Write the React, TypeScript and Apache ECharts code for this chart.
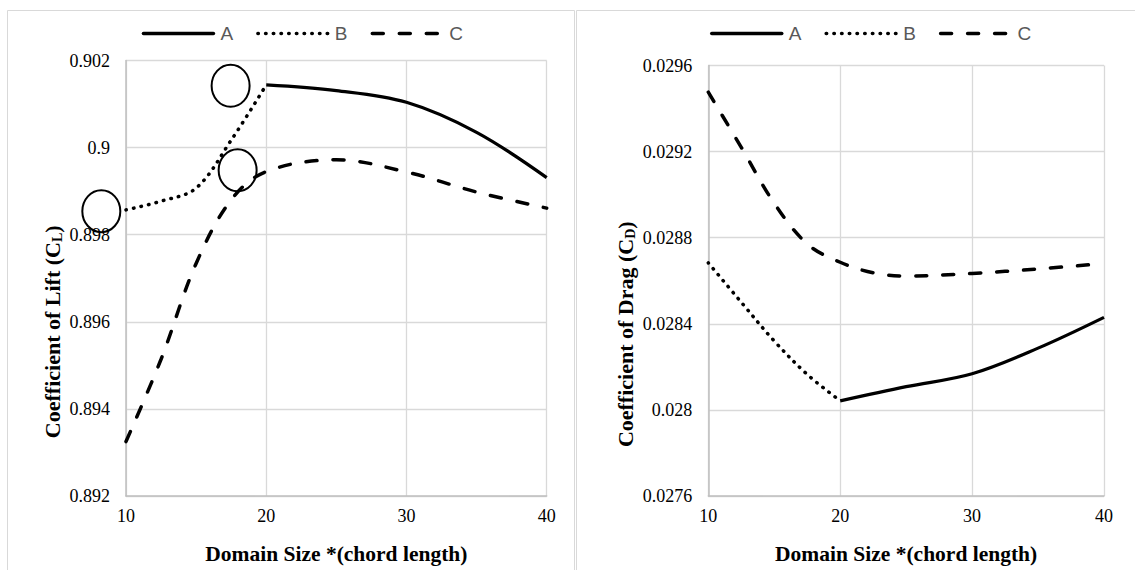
import React, { useEffect, useRef } from 'react';
import * as echarts from 'echarts';

// ---- Data ----
const xTicks = [10, 20, 30, 40];

const liftAX = [20, 25, 30, 35, 40];
const liftA = [0.90144, 0.90131, 0.90104, 0.90035, 0.89931];
const liftBX = [10, 12.5, 15, 17.5, 20];
const liftB = [0.89857, 0.89877, 0.89907, 0.90017, 0.90144];
const liftCX = [10, 12.5, 15, 17.5, 20, 25, 30, 35, 40];
const liftC = [0.89325, 0.89514, 0.89734, 0.8988, 0.89945, 0.89972, 0.89944, 0.89898, 0.89861];

const dragAX = [20, 25, 30, 35, 40];
const dragA = [0.028042, 0.028108, 0.028168, 0.028287, 0.02843];
const dragBX = [10, 12.5, 15, 17.5, 20];
const dragB = [0.028683, 0.0285, 0.02832, 0.028165, 0.028042];
const dragCX = [10, 12.5, 15, 17.5, 20, 22.5, 25, 30, 35, 40];
const dragC = [0.029476, 0.02922, 0.02896, 0.028771, 0.028686, 0.028637, 0.028622, 0.028634, 0.028655, 0.02868];

const seriesNames = ['A', 'B', 'C'];
const xTitle = 'Domain Size *(chord length)';

// annotation circles on the lift chart (data coordinates of their centres)
const liftCircles = [
  [17.46, 0.90142],
  [17.96, 0.89948],
  [8.24, 0.89854],
];

const pair = (xs: number[], ys: number[]) => xs.map((x, i) => [x, ys[i]]);

const SERIF = 'Liberation Serif';
const SANS = 'Liberation Sans';

const solid = { type: 'solid' as const, width: 3.25, color: '#000' };
const dotted = { type: [0.5, 7.2], width: 3.5, color: '#000', cap: 'round' as const };
const dashed = { type: [11, 16], width: 3.5, color: '#000', cap: 'round' as const };

const styles = [solid, dotted, dashed];

function lineSeries(name: string, idx: number, data: number[][], style: any) {
  return {
    type: 'line',
    name,
    xAxisIndex: idx,
    yAxisIndex: idx,
    data,
    smooth: 0.35,
    showSymbol: false,
    symbol: 'none',
    lineStyle: style,
    itemStyle: { color: '#000' },
    z: 3,
  };
}

export default function App() {
  const ref = useRef<HTMLDivElement>(null);

  useEffect(() => {
    if (!ref.current) return;
    const chart = echarts.init(ref.current, null, { renderer: 'svg' });

    const axisLabel = { fontFamily: SERIF, fontSize: 18, color: '#000' };
    const titleRich = {
      a: { fontFamily: SERIF, fontWeight: 'bold', fontSize: 22, color: '#000' },
      s: { fontFamily: SERIF, fontWeight: 'bold', fontSize: 14, color: '#000', padding: [10, 0, 0, 0] },
    };

    const xAxisBase = (gridIndex: number) => ({
      type: 'value',
      gridIndex,
      min: xTicks[0],
      max: xTicks[xTicks.length - 1],
      interval: 10,
      name: xTitle,
      nameLocation: 'middle',
      nameGap: 47,
      nameTextStyle: { fontFamily: SERIF, fontWeight: 'bold', fontSize: 21.5, color: '#000' },
      axisLine: { show: true, lineStyle: { color: '#bfbfbf', width: 1.5 } },
      axisTick: { show: false },
      axisLabel: { ...axisLabel, margin: 11 },
      splitLine: { show: true, lineStyle: { color: '#d9d9d9', width: 1.3 } },
    });

    const yAxisBase = (gridIndex: number, min: number, max: number, interval: number, name: string, gap: number) => ({
      type: 'value',
      gridIndex,
      min,
      max,
      interval,
      name,
      nameLocation: 'middle',
      nameRotate: 90,
      nameGap: gap,
      nameTextStyle: { rich: titleRich, padding: [0, 107, 0, 0] },
      axisLine: { show: true, lineStyle: { color: '#bfbfbf', width: 1.5 } },
      axisTick: { show: false },
      axisLabel: { ...axisLabel, margin: 16 },
      splitLine: { show: true, lineStyle: { color: '#d9d9d9', width: 1.3 } },
    });

    const legendBase = (left: number) => ({
      left,
      top: 24,
      padding: 0,
      data: seriesNames,
      itemWidth: 70,
      itemHeight: 20,
      itemGap: 23,
      itemStyle: { opacity: 0, color: 'transparent', borderColor: 'transparent', borderWidth: 0 },
      lineStyle: { width: 3.5, cap: 'round' },
      textStyle: { fontFamily: SANS, fontSize: 19, color: '#595959', padding: [0, 0, 0, 2] },
      selectedMode: false,
    });

    const option: any = {
      animation: false,
      backgroundColor: '#fff',
      textStyle: { fontFamily: SERIF, fontSize: 18, color: '#000' },
      grid: [
        { left: 126, right: 1135 - 546.7, top: 60.5, bottom: 570 - 501.7 },
        { left: 708.3, right: 1135 - 1104, top: 65.5, bottom: 570 - 504 },
      ],
      legend: [legendBase(141.7), legendBase(710)],
      xAxis: [xAxisBase(0), xAxisBase(1)],
      yAxis: [
        yAxisBase(0, 0.892, 0.902, 0.002, '{a|Coefficient of Lift (C}{s|L}{a|)}', 62),
        yAxisBase(1, 0.0276, 0.0296, 0.0004, '{a|Coefficient of Drag (C}{s|D}{a|)}', 71),
      ],
      series: [
        lineSeries(seriesNames[0], 0, pair(liftAX, liftA), styles[0]),
        lineSeries(seriesNames[1], 0, pair(liftBX, liftB), styles[1]),
        lineSeries(seriesNames[2], 0, pair(liftCX, liftC), styles[2]),
        lineSeries(seriesNames[0], 1, pair(dragAX, dragA), styles[0]),
        lineSeries(seriesNames[1], 1, pair(dragBX, dragB), styles[1]),
        lineSeries(seriesNames[2], 1, pair(dragCX, dragC), styles[2]),
      ],
      graphic: [
        {
          id: 'boxL', type: 'rect', silent: true, z: -10,
          shape: { x: 7.5, y: 10.5, width: 567, height: 620 },
          style: { fill: 'none', stroke: '#d9d9d9', lineWidth: 1 },
        },
        {
          id: 'boxR', type: 'rect', silent: true, z: -10,
          shape: { x: 576.5, y: 10.5, width: 620, height: 620 },
          style: { fill: 'none', stroke: '#d9d9d9', lineWidth: 1 },
        },
      ],
    };

    chart.setOption(option);

    const circles = liftCircles.map((c, i) => {
      const p = chart.convertToPixel({ gridIndex: 0 }, c) as number[];
      return {
        id: 'circ' + i,
        type: 'ellipse',
        silent: true,
        z: 10,
        shape: { cx: p[0], cy: p[1], rx: 19, ry: 21 },
        style: { fill: 'none', stroke: '#000', lineWidth: 2 },
      };
    });
    chart.setOption({ graphic: circles });

    return () => chart.dispose();
  }, []);

  return (
    <div
      ref={ref}
      style={{ position: 'fixed', left: 0, top: 0, width: 1135, height: 570, background: '#fff' }}
    />
  );
}
